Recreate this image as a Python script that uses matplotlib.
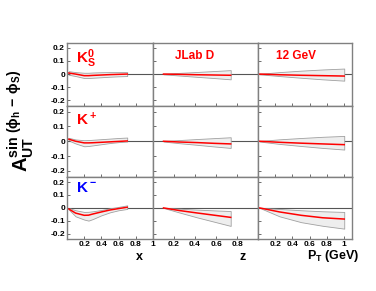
import numpy as np
import matplotlib
matplotlib.use("Agg")
import matplotlib.pyplot as plt

plt.rcParams['font.family'] = ['Liberation Sans', 'DejaVu Sans']
plt.rcParams['font.weight'] = 'bold'
plt.rcParams['mathtext.fontset'] = 'custom'
plt.rcParams['mathtext.bf'] = 'Liberation Sans:bold'
plt.rcParams['mathtext.rm'] = 'Liberation Sans:bold'
plt.rcParams['mathtext.it'] = 'Liberation Sans:bold'

# ==============================
# DATA
# ==============================

hadrons = [r"$\mathbf{K_S^0}$", r"$\mathbf{K^+}$", r"$\mathbf{K^-}$"]
hadron_colors = ["red", "red", "blue"]

x_pts = [0.02, 0.1, 0.2, 0.25, 0.3, 0.4, 0.5, 0.6, 0.7]
z_pts = [0.1, 0.25, 0.42, 0.58, 0.74]
pt_pts = [0.02, 0.25, 0.5, 0.75, 1.0]

# K_S^0
ks_x_mid = [0.008, 0.0, -0.012, -0.012, -0.010, -0.007, -0.004, -0.002, 0.0]
ks_x_up = [0.022, 0.015, 0.010, 0.010, 0.012, 0.014, 0.015, 0.015, 0.015]
ks_x_lo = [-0.005, -0.015, -0.030, -0.030, -0.028, -0.024, -0.020, -0.017, -0.015]
ks_z_mid = [0.0, -0.002, -0.005, -0.007, -0.009]
ks_z_up = [0.002, 0.009, 0.016, 0.023, 0.030]
ks_z_lo = [-0.002, -0.011, -0.021, -0.030, -0.040]
ks_pt_mid = [0.0, -0.005, -0.009, -0.012, -0.015]
ks_pt_up = [0.002, 0.015, 0.026, 0.035, 0.042]
ks_pt_lo = [-0.002, -0.015, -0.028, -0.040, -0.050]

# K^+
kp_x_mid = [0.014, 0.0, -0.011, -0.011, -0.010, -0.007, -0.004, -0.001, 0.002]
kp_x_up = [0.023, 0.012, 0.007, 0.008, 0.010, 0.014, 0.018, 0.022, 0.025]
kp_x_lo = [0.005, -0.015, -0.034, -0.032, -0.028, -0.020, -0.012, -0.006, -0.002]
kp_z_mid = [0.0, -0.005, -0.009, -0.014, -0.018]
kp_z_up = [0.002, 0.008, 0.015, 0.021, 0.027]
kp_z_lo = [-0.002, -0.013, -0.024, -0.035, -0.045]
kp_pt_mid = [0.0, -0.007, -0.013, -0.018, -0.023]
kp_pt_up = [0.002, 0.013, 0.022, 0.030, 0.036]
kp_pt_lo = [-0.002, -0.018, -0.032, -0.045, -0.056]

# K^-
km_x_mid = [-0.008, -0.040, -0.057, -0.056, -0.047, -0.031, -0.016, -0.005, 0.005]
km_x_up = [0.0, -0.018, -0.031, -0.030, -0.026, -0.016, -0.003, 0.008, 0.020]
km_x_lo = [-0.012, -0.065, -0.090, -0.098, -0.086, -0.057, -0.034, -0.018, -0.008]
km_z_mid = [0.0, -0.020, -0.039, -0.056, -0.073]
km_z_up = [0.0, -0.006, -0.013, -0.019, -0.024]
km_z_lo = [0.0, -0.035, -0.073, -0.106, -0.139]
km_pt_mid = [0.0, -0.031, -0.057, -0.076, -0.086]
km_pt_up = [0.0, -0.008, -0.018, -0.026, -0.031]
km_pt_lo = [0.0, -0.065, -0.110, -0.138, -0.160]

curves = [
    [(x_pts, ks_x_mid, ks_x_up, ks_x_lo), (z_pts, ks_z_mid, ks_z_up, ks_z_lo), (pt_pts, ks_pt_mid, ks_pt_up, ks_pt_lo)],
    [(x_pts, kp_x_mid, kp_x_up, kp_x_lo), (z_pts, kp_z_mid, kp_z_up, kp_z_lo), (pt_pts, kp_pt_mid, kp_pt_up, kp_pt_lo)],
    [(x_pts, km_x_mid, km_x_up, km_x_lo), (z_pts, km_z_mid, km_z_up, km_z_lo), (pt_pts, km_pt_mid, km_pt_up, km_pt_lo)],
]

xlims = [(0, 1.0), (0, 1.0), (0, 1.09)]
xticks = [[0.2, 0.4, 0.6, 0.8, 1.0], [0.2, 0.4, 0.6, 0.8], [0.2, 0.4, 0.6, 0.8, 1.0]]
xticklabels = [["0.2", "0.4", "0.6", "0.8", "1"], ["0.2", "0.4", "0.6", "0.8"], ["0.2", "0.4", "0.6", "0.8", "1"]]
yticks = [0.2, 0.1, 0, -0.1, -0.2]
yticklabels = ["0.2", "0.1", "0", "-0.1", "-0.2"]

# ==============================
# FIGURE
# ==============================

fig = plt.figure(figsize=(3.76, 2.91), dpi=100)
gs = fig.add_gridspec(3, 3, left=67/376, right=352/376, top=1-42.5/291, bottom=1-239/291,
                      width_ratios=[86, 105, 94], height_ratios=[63, 71, 62],
                      wspace=0, hspace=0)

frame_col = "#808080"

for r in range(3):
    for c in range(3):
        ax = fig.add_subplot(gs[r, c])
        xs, mid, up, lo = curves[r][c]
        ax.fill_between(xs, lo, up, facecolor="#eeeeee", edgecolor="#a0a0a0", linewidth=0.6)
        ax.plot(xs, mid, color="red", linewidth=1.1)
        ax.axhline(0, color="#555555", linewidth=0.8, zorder=0.5)

        ax.set_xlim(*xlims[c])
        ax.set_ylim(-0.24, 0.24)
        ax.set_xticks(xticks[c])
        ax.set_yticks(yticks)
        ax.tick_params(direction="in", length=2.5, width=0.6, color="#555555",
                       labelsize=6, pad=1.5)
        if r == 2:
            ax.set_xticklabels(xticklabels[c], fontweight="bold")
        else:
            ax.set_xticklabels([])
        if c == 0:
            ax.set_yticklabels(yticklabels, fontweight="bold")
        else:
            ax.set_yticklabels([])
        for s in ax.spines.values():
            s.set_color(frame_col)
            s.set_linewidth(1.0)

        if c == 0:
            ax.text(0.1, 0.93, hadrons[r], color=hadron_colors[r], fontsize=11,
                    transform=ax.transAxes, ha="left", va="top")
        if r == 0 and c == 1:
            ax.text(0.21, 0.88, "JLab D", color="red", fontsize=8.5, fontweight="bold",
                    transform=ax.transAxes, ha="left", va="top")
        if r == 0 and c == 2:
            ax.text(0.19, 0.88, "12 GeV", color="red", fontsize=8.5, fontweight="bold",
                    transform=ax.transAxes, ha="left", va="top")

fig.text(0.055, 0.585, r"$\mathbf{A}_{\mathbf{UT}}^{\mathbf{sin\ (\phi_h\,-\,\phi_S)}}$",
         rotation=90, fontsize=14.5, ha="center", va="center")
fig.text(139/376, 1-257/291, "x", fontsize=9, fontweight="bold", ha="center", va="center")
fig.text(243/376, 1-257/291, "z", fontsize=9, fontweight="bold", ha="center", va="center")
fig.text(333/376, 1-256/291, r"$\mathbf{P_T}$ (GeV)", fontsize=9, fontweight="bold",
         ha="center", va="center")

fig.savefig("out.png", dpi=100)
